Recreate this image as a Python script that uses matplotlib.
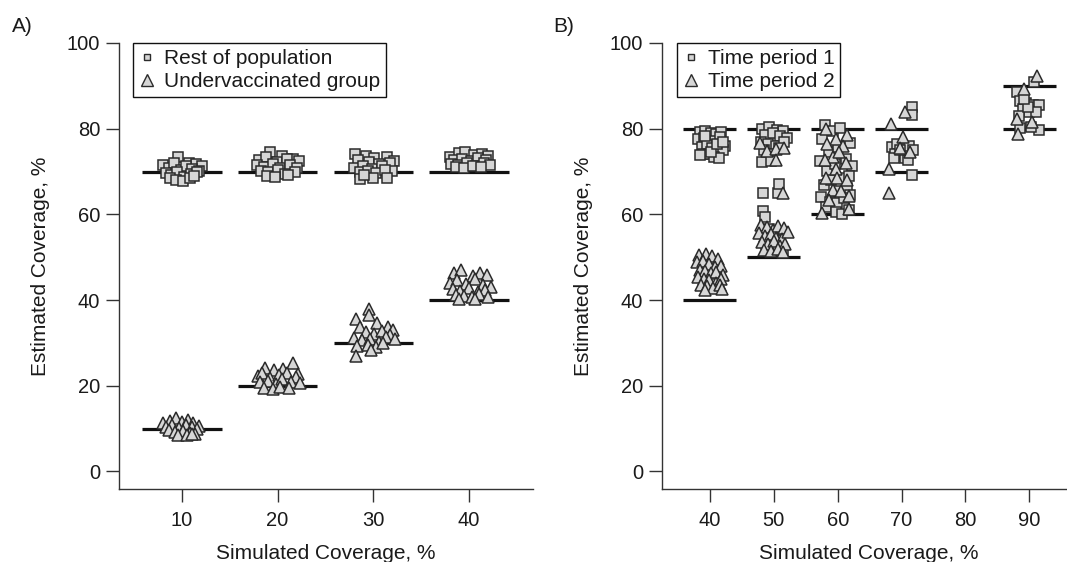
import matplotlib
matplotlib.use("Agg")
import matplotlib.pyplot as plt
from matplotlib.lines import Line2D

plt.rcParams["font.family"] = ["Liberation Sans", "DejaVu Sans"]

# ---------------- Panel A: estimated vs simulated coverage ----------------
sim_levels_a = [10, 20, 30, 40]
rest_true = [70, 70, 70, 70]
under_true = [10, 20, 30, 40]

rest_x_10 = [9.6, 10.7, 11.5, 12.1, 8.0, 8.6, 9.2, 9.9, 10.4, 11.0, 11.8, 8.3, 8.9, 9.5, 10.2, 10.9, 11.6, 8.7, 9.4, 10.1, 10.8, 11.3]
rest_y_10 = [73.4, 72.1, 71.7, 71.3, 71.6, 70.9, 71.9, 70.4, 71.2, 70.6, 70.2, 69.6, 69.1, 70.0, 68.8, 69.4, 69.9, 68.4, 68.0, 67.7, 68.6, 69.0]
rest_x_20 = [19.2, 20.5, 21.6, 18.1, 18.8, 19.9, 21.0, 22.2, 17.8, 18.6, 19.5, 20.3, 21.3, 22.0, 18.3, 19.0, 20.0, 20.8, 21.8, 18.9, 19.7, 21.1]
rest_y_20 = [74.5, 73.6, 73.0, 72.6, 73.4, 72.2, 72.9, 72.5, 71.5, 71.0, 71.8, 70.8, 71.6, 70.9, 70.2, 69.8, 70.4, 69.5, 70.0, 69.0, 68.7, 69.2]
rest_x_30 = [28.1, 29.2, 30.1, 31.4, 32.2, 28.4, 29.6, 30.6, 31.7, 28.0, 28.9, 29.9, 30.9, 32.0, 28.6, 29.4, 30.3, 31.2, 28.6, 30.0, 31.4, 29.0]
rest_y_30 = [74.0, 73.6, 73.2, 73.5, 72.4, 72.6, 72.2, 71.8, 72.0, 70.8, 71.2, 70.6, 71.4, 70.2, 69.8, 70.1, 69.6, 70.4, 68.3, 68.6, 68.4, 69.2]
rest_x_40 = [38.0, 39.0, 39.6, 40.5, 41.4, 42.0, 38.4, 39.3, 40.2, 41.0, 41.8, 38.1, 38.9, 39.8, 40.7, 41.6, 42.2, 38.6, 39.5, 40.4, 41.3]
rest_y_40 = [73.4, 74.3, 74.6, 73.8, 74.2, 73.6, 72.8, 73.0, 72.4, 73.2, 72.6, 71.8, 71.5, 72.0, 71.3, 71.9, 71.6, 71.0, 70.8, 71.2, 71.0]

under_x_10 = [8.0, 8.7, 9.4, 10.0, 10.6, 11.2, 11.8, 8.3, 9.0, 9.7, 10.4, 11.0, 11.6, 8.6, 9.3, 10.1, 10.8, 11.4, 9.6, 10.5, 11.1]
under_y_10 = [11.2, 11.8, 12.4, 11.6, 11.9, 11.3, 10.6, 10.4, 10.8, 10.1, 10.9, 10.3, 9.8, 9.6, 9.2, 9.4, 9.0, 8.8, 8.6, 8.4, 8.7]
under_x_20 = [18.7, 19.6, 20.6, 21.6, 22.1, 17.9, 18.4, 19.2, 20.1, 21.0, 21.9, 18.2, 19.0, 19.8, 20.5, 21.4, 22.3, 18.6, 19.5, 20.3, 21.2]
under_y_20 = [24.2, 23.6, 24.0, 25.4, 22.8, 22.2, 22.9, 21.8, 22.6, 23.0, 22.1, 20.8, 21.2, 20.4, 21.5, 20.9, 20.6, 19.5, 19.2, 19.8, 19.4]
under_x_30 = [29.6, 28.2, 29.6, 30.4, 31.5, 32.1, 28.6, 29.2, 30.1, 30.9, 31.8, 28.0, 28.8, 29.7, 30.6, 31.3, 32.3, 28.3, 29.4, 30.3, 31.0, 28.2, 29.8]
under_y_30 = [38.0, 35.5, 36.4, 34.6, 33.6, 33.0, 33.8, 32.6, 32.0, 32.8, 31.8, 31.2, 30.6, 31.0, 30.2, 31.4, 30.8, 29.2, 29.6, 29.0, 30.0, 27.0, 28.4]
under_x_40 = [38.4, 39.2, 40.4, 41.2, 41.9, 38.0, 38.8, 39.7, 40.6, 41.5, 42.3, 38.3, 39.1, 40.0, 40.9, 41.7, 38.6, 39.5, 40.3, 41.1, 42.0, 39.0, 40.6]
under_y_40 = [46.4, 47.0, 45.6, 46.3, 45.8, 44.0, 44.6, 43.8, 44.9, 43.4, 43.0, 42.6, 42.1, 42.8, 41.8, 42.4, 41.2, 41.0, 40.6, 41.4, 40.8, 40.3, 40.2]

# ---------------- Panel B: two time periods ----------------
sim_ticks_b = [40, 50, 60, 70, 80, 90]
true_x_b = [40, 40, 50, 50, 60, 60, 70, 70, 90, 90]
true_y_b = [80, 40, 80, 50, 80, 60, 80, 70, 90, 80]

p1_x_40 = [38.5, 39.3, 40.1, 41.0, 41.8, 38.2, 39.0, 39.9, 40.8, 41.6, 42.3, 38.7, 39.5, 40.4, 41.3, 42.0, 38.9, 39.8, 40.6, 41.4, 39.2, 40.2, 41.1, 38.4, 42.1]
p1_y_40 = [79.3, 79.5, 79.0, 78.8, 79.2, 77.5, 77.8, 76.8, 77.2, 78.0, 76.0, 75.8, 76.3, 75.5, 74.8, 75.0, 74.2, 74.0, 73.5, 73.2, 78.4, 74.6, 76.5, 73.8, 77.0]
p1_x_50 = [48.2, 49.3, 50.5, 51.5, 48.6, 49.8, 51.0, 52.0, 48.0, 49.1, 50.3, 51.6, 48.5, 49.6, 50.8, 48.1, 49.6,
           48.3, 50.6, 50.8,
           48.3, 48.6, 49.2, 50.5, 49.5, 51.5, 48.8]
p1_y_50 = [80.0, 80.3, 79.8, 79.5, 78.5, 79.0, 78.2, 77.8, 77.0, 76.5, 76.0, 76.8, 75.0, 74.2, 75.5, 72.3, 72.5,
           65.0, 65.0, 67.2,
           60.8, 59.5, 56.5, 54.0, 52.5, 51.5, 53.2]
p1_x_60 = [58.0, 59.2, 60.4, 61.9, 57.5, 58.6, 60.0, 61.3, 62.2, 57.2, 58.3, 59.5, 60.8, 61.8, 57.8, 59.0, 60.2, 61.5, 62.0, 57.4, 58.8, 59.9, 61.0, 58.1, 59.7, 60.6, 61.7]
p1_y_60 = [80.8, 79.5, 80.2, 76.7, 77.5, 74.5, 75.8, 73.0, 71.2, 72.5, 70.2, 71.8, 68.5, 69.0, 66.8, 68.0, 65.4, 66.2, 64.5, 64.0, 63.0, 62.6, 63.8, 61.8, 60.5, 60.2, 61.0]
p1_x_70 = [71.7, 71.7, 68.5, 69.3, 70.3, 71.2, 69.0, 70.6, 71.8, 68.8, 71.7, 71.0, 69.8]
p1_y_70 = [85.0, 83.3, 75.8, 76.5, 74.5, 76.0, 74.0, 73.2, 75.0, 73.2, 69.2, 72.8, 75.0]
p1_x_90 = [90.8, 88.0, 88.5, 89.5, 90.5, 91.5, 89.0, 90.0, 91.0, 88.3, 89.8, 88.5, 91.5, 90.3, 89.2]
p1_y_90 = [91.0, 88.5, 86.5, 86.0, 85.5, 85.5, 84.5, 83.8, 84.0, 83.0, 85.0, 80.2, 79.8, 80.3, 87.0]

p2_x_40 = [38.3, 39.4, 40.4, 41.2, 38.0, 38.9, 39.8, 40.8, 41.7, 38.4, 39.3, 40.2, 41.0, 42.0, 38.1, 39.0, 39.9, 40.9, 41.8, 38.6, 39.5, 40.5, 41.5, 39.2, 41.9]
p2_y_40 = [50.5, 50.8, 50.2, 49.6, 48.8, 49.2, 48.4, 47.8, 48.0, 47.0, 46.8, 46.2, 46.6, 45.8, 45.4, 45.0, 44.6, 44.0, 44.8, 43.6, 43.2, 42.8, 43.4, 42.4, 42.6]
p2_x_50 = [47.8, 48.9, 50.4, 50.4, 51.6,
           51.4,
           48.0, 48.9, 49.8, 50.7, 51.6, 47.7, 48.6, 49.5, 50.4, 51.3, 52.2, 48.2, 49.1, 50.0, 50.9, 51.8, 48.5, 49.6, 50.6, 51.5]
p2_y_50 = [76.7, 74.8, 75.2, 72.8, 75.5,
           65.0,
           57.6, 57.0, 56.4, 57.2, 56.8, 55.6, 55.0, 55.4, 54.6, 54.2, 55.8, 53.6, 53.0, 53.8, 52.6, 53.2, 51.8, 51.4, 52.0, 51.2]
p2_x_60 = [58.1, 61.4, 59.8, 58.4, 60.8, 59.2, 58.0, 61.3, 59.8, 58.1, 59.9, 61.5, 59.2, 60.5, 61.8, 57.6, 61.8, 60.2, 58.6]
p2_y_60 = [80.0, 78.6, 77.5, 76.5, 76.0, 73.3, 72.8, 72.0, 70.5, 68.5, 68.6, 68.0, 65.8, 65.4, 64.3, 60.4, 61.2, 74.6, 63.4]
p2_x_70 = [68.4, 70.6, 70.2, 69.8, 71.3, 68.1, 68.1]
p2_y_70 = [81.0, 84.0, 78.0, 75.5, 74.5, 70.5, 65.0]
p2_x_90 = [91.2, 89.2, 88.0, 90.4, 88.2]
p2_y_90 = [92.2, 89.2, 82.2, 81.5, 78.8]

# ---------------- styling ----------------
FILL = "#d6d6d6"
EDGE = "#2b2b2b"
AXIS = "#333333"
TEXT = "#1a1a1a"
FS_TICK = 14.5
FS_LABEL = 15
HALF_WIDTH = 4.15

fig = plt.figure(figsize=(10.67, 5.62), dpi=100)
W, H = 1067.0, 562.0
ax_a = fig.add_axes([119 / W, 1 - 489 / H, 414 / W, 446 / H])
ax_b = fig.add_axes([662 / W, 1 - 489 / H, 414 / W, 446 / H])


def style_axes(ax, xlim, xticks):
    ax.set_xlim(*xlim)
    ax.set_ylim(-4.1, 100)
    ax.set_xticks(xticks)
    ax.set_yticks([0, 20, 40, 60, 80, 100])
    for side in ("top", "right"):
        ax.spines[side].set_visible(False)
    for side in ("left", "bottom"):
        ax.spines[side].set_color(AXIS)
        ax.spines[side].set_linewidth(1.0)
    ax.tick_params(axis="both", direction="out", length=9.5, width=1.0,
                   color=AXIS, labelsize=FS_TICK, labelcolor=TEXT)
    ax.tick_params(axis="x", pad=6)
    ax.tick_params(axis="y", pad=4)
    ax.set_xlabel("Simulated Coverage, %", fontsize=FS_LABEL, color=TEXT)
    ax.set_ylabel("Estimated Coverage, %", fontsize=FS_LABEL, color=TEXT)
    ax.xaxis.set_label_coords(0.5, -0.124)
    ax.yaxis.set_label_coords(-0.167, 0.5)


def scatter(ax, xs, ys, marker, ms):
    ax.plot(xs, ys, linestyle="none", marker=marker, markersize=ms,
            markerfacecolor=FILL, markeredgecolor=EDGE, markeredgewidth=1.1,
            zorder=3, clip_on=False)


def true_lines(ax, xs, ys):
    ax.hlines(ys, [x - HALF_WIDTH for x in xs], [x + HALF_WIDTH for x in xs],
              colors="#111111", linewidth=2.3, zorder=2)


# Panel A
style_axes(ax_a, (3.42, 46.7), sim_levels_a)
true_lines(ax_a, sim_levels_a, rest_true)
true_lines(ax_a, sim_levels_a, under_true)
for xs, ys in [(rest_x_10, rest_y_10), (rest_x_20, rest_y_20),
               (rest_x_30, rest_y_30), (rest_x_40, rest_y_40)]:
    scatter(ax_a, xs, ys, "s", 7.4)
for xs, ys in [(under_x_10, under_y_10), (under_x_20, under_y_20),
               (under_x_30, under_y_30), (under_x_40, under_y_40)]:
    scatter(ax_a, xs, ys, "^", 8.2)

# Panel B
style_axes(ax_b, (32.5, 97.3), sim_ticks_b)
true_lines(ax_b, true_x_b, true_y_b)
for xs, ys in [(p1_x_40, p1_y_40), (p1_x_50, p1_y_50), (p1_x_60, p1_y_60),
               (p1_x_70, p1_y_70), (p1_x_90, p1_y_90)]:
    scatter(ax_b, xs, ys, "s", 7.4)
for xs, ys in [(p2_x_40, p2_y_40), (p2_x_50, p2_y_50), (p2_x_60, p2_y_60),
               (p2_x_70, p2_y_70), (p2_x_90, p2_y_90)]:
    scatter(ax_b, xs, ys, "^", 8.2)


def legend(ax, labels, x0):
    handles = [
        Line2D([], [], linestyle="none", marker="s", markersize=5,
               markerfacecolor=FILL, markeredgecolor=EDGE, markeredgewidth=1.0),
        Line2D([], [], linestyle="none", marker="^", markersize=8,
               markerfacecolor=FILL, markeredgecolor=EDGE, markeredgewidth=1.0),
    ]
    leg = ax.legend(handles, labels, loc="upper left", bbox_to_anchor=(x0, 1.0),
                    borderaxespad=0, fontsize=FS_LABEL, frameon=True,
                    fancybox=False, handlelength=0.8, handletextpad=0.4,
                    labelspacing=0.2, borderpad=0.28)
    frame = leg.get_frame()
    frame.set_edgecolor("#111111")
    frame.set_linewidth(1.0)
    frame.set_alpha(None)
    frame.set_facecolor("white")
    for t in leg.get_texts():
        t.set_color(TEXT)


legend(ax_a, ["Rest of population", "Undervaccinated group"], 0.034)
legend(ax_b, ["Time period 1", "Time period 2"], 0.036)

fig.text(12 / W, 1 - 26 / H, "A)", fontsize=FS_LABEL, va="center", ha="left", color=TEXT)
fig.text(553 / W, 1 - 26 / H, "B)", fontsize=FS_LABEL, va="center", ha="left", color=TEXT)

fig.savefig("out.png", dpi=100)
